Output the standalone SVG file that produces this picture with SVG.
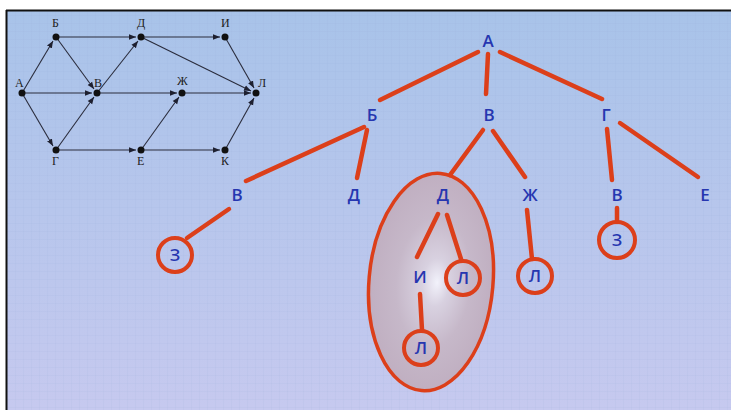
<svg xmlns="http://www.w3.org/2000/svg" width="731" height="410" viewBox="0 0 731 410">
<defs>
<linearGradient id="bg" x1="0" y1="0" x2="0" y2="1">
<stop offset="0" stop-color="#a8c3e9"/>
<stop offset="1" stop-color="#c6c9ef"/>
</linearGradient>
<pattern id="grid" width="8" height="8" patternUnits="userSpaceOnUse">
<path d="M8 0V8M0 8H8" fill="none" stroke="#8aa0d0" stroke-width="1" opacity="0.18"/>
</pattern>
<radialGradient id="ell" cx="0.5" cy="0.5" r="0.5" fx="0.55" fy="0.5">
<stop offset="0" stop-color="#f2f2fb"/>
<stop offset="0.22" stop-color="#d8d1e0"/>
<stop offset="0.6" stop-color="#c6b8c9"/>
<stop offset="1" stop-color="#c0afc1"/>
</radialGradient>
<marker id="ar" viewBox="0 0 10 10" refX="10" refY="5" markerWidth="7" markerHeight="7" orient="auto" markerUnits="userSpaceOnUse">
<path d="M0 1L10 5L0 9Z" fill="#1e2030"/>
</marker>
<style>
.e{stroke:#2a2c3c;stroke-width:1.1;fill:none;marker-end:url(#ar)}
.d{fill:#111}
.s{font-family:"Liberation Serif",serif;font-size:12px;fill:#222}
.t{font-family:"Open Sans","Liberation Sans",sans-serif;font-size:17px;font-weight:600;fill:#2636b0;text-anchor:middle}
.r{stroke:#dc3f1a;stroke-width:4.5;stroke-linecap:round;fill:none}
.c{stroke:#dc3f1a;stroke-width:4;fill:none}
</style>
</defs>
<rect x="0" y="0" width="731" height="410" fill="#fff"/>
<rect x="6" y="10" width="725" height="400" fill="url(#bg)"/>
<rect x="6" y="10" width="725" height="400" fill="url(#grid)"/>
<path d="M6 10.5H731M6.5 10V410" stroke="#111" stroke-width="2"/>

<g id="small-graph">
<g id="small-edges">
<line class="e" x1="22" y1="93" x2="53" y2="41"/>
<line class="e" x1="22" y1="93" x2="92" y2="93"/>
<line class="e" x1="22" y1="93" x2="53" y2="146"/>
<line class="e" x1="56" y1="37" x2="136" y2="37"/>
<line class="e" x1="56" y1="37" x2="94" y2="89"/>
<line class="e" x1="56" y1="150" x2="94" y2="97"/>
<line class="e" x1="97" y1="93" x2="138" y2="41"/>
<line class="e" x1="141" y1="37" x2="220" y2="37"/>
<line class="e" x1="141" y1="37" x2="251" y2="91"/>
<line class="e" x1="225" y1="37" x2="254" y2="88"/>
<line class="e" x1="97" y1="93" x2="177" y2="93"/>
<line class="e" x1="182" y1="93" x2="251" y2="93"/>
<line class="e" x1="56" y1="150" x2="136" y2="150"/>
<line class="e" x1="141" y1="150" x2="179" y2="97"/>
<line class="e" x1="141" y1="150" x2="220" y2="150"/>
<line class="e" x1="225" y1="150" x2="254" y2="98"/>
</g>
<g id="sn-A"><circle class="d" cx="22" cy="93" r="3.5"/><text class="s" x="15" y="87">А</text></g>
<g id="sn-B"><circle class="d" cx="56" cy="37" r="3.5"/><text class="s" x="52" y="27">Б</text></g>
<g id="sn-D"><circle class="d" cx="141" cy="37" r="3.5"/><text class="s" x="137" y="27">Д</text></g>
<g id="sn-I"><circle class="d" cx="225" cy="37" r="3.5"/><text class="s" x="221" y="27">И</text></g>
<g id="sn-V"><circle class="d" cx="97" cy="93" r="3.5"/><text class="s" x="94" y="87">В</text></g>
<g id="sn-Zh"><circle class="d" cx="182" cy="93" r="3.5"/><text class="s" x="177" y="85">Ж</text></g>
<g id="sn-L"><circle class="d" cx="256" cy="93" r="3.5"/><text class="s" x="258" y="87">Л</text></g>
<g id="sn-G"><circle class="d" cx="56" cy="150" r="3.5"/><text class="s" x="52" y="165">Г</text></g>
<g id="sn-E"><circle class="d" cx="141" cy="150" r="3.5"/><text class="s" x="137" y="165">Е</text></g>
<g id="sn-K"><circle class="d" cx="225" cy="150" r="3.5"/><text class="s" x="221" y="165">К</text></g>
</g>

<g id="highlight">
<ellipse cx="431" cy="282" rx="62" ry="109" transform="rotate(5 431 282)" fill="url(#ell)" stroke="#dc3f1a" stroke-width="3.5"/>
</g>

<g id="connectors">
<line class="r" x1="478" y1="52" x2="380" y2="100"/>
<line class="r" x1="488" y1="54" x2="486" y2="94"/>
<line class="r" x1="500" y1="52" x2="602" y2="99"/>
<line class="r" x1="364" y1="127" x2="246" y2="181"/>
<line class="r" x1="367" y1="130" x2="357" y2="178"/>
<line class="r" x1="483" y1="130" x2="450" y2="175"/>
<line class="r" x1="493" y1="131" x2="525" y2="177"/>
<line class="r" x1="607" y1="129" x2="612" y2="180"/>
<line class="r" x1="620" y1="123" x2="698" y2="177"/>
<line class="r" x1="229" y1="209" x2="187" y2="238"/>
<line class="r" x1="438" y1="214" x2="417" y2="257"/>
<line class="r" x1="447" y1="215" x2="461" y2="259"/>
<line class="r" x1="420" y1="294" x2="422" y2="330"/>
<line class="r" x1="527" y1="210" x2="532" y2="259"/>
<line class="r" x1="617" y1="208" x2="617" y2="222"/>
</g>

<g id="n-A"><text class="t" x="488" y="47">А</text></g>
<g id="n-B"><text class="t" x="372" y="121">Б</text></g>
<g id="n-V"><text class="t" x="489" y="121">В</text></g>
<g id="n-G"><text class="t" x="606" y="121">Г</text></g>
<g id="n-BV"><text class="t" x="237" y="201">В</text></g>
<g id="n-BD"><text class="t" x="354" y="201">Д</text></g>
<g id="n-VD"><text class="t" x="443" y="201">Д</text></g>
<g id="n-VZh"><text class="t" x="530" y="201">Ж</text></g>
<g id="n-GV"><text class="t" x="617" y="201">В</text></g>
<g id="n-GE"><text class="t" x="705" y="201">Е</text></g>
<g id="n-Z1"><circle class="c" cx="175" cy="255" r="17"/><text class="t" x="175" y="261">З</text></g>
<g id="n-I"><text class="t" x="420" y="283">И</text></g>
<g id="n-L1"><circle class="c" cx="463" cy="278" r="17"/><text class="t" x="463" y="284">Л</text></g>
<g id="n-L2"><circle class="c" cx="421" cy="348" r="17"/><text class="t" x="421" y="354">Л</text></g>
<g id="n-L3"><circle class="c" cx="535" cy="276" r="17"/><text class="t" x="535" y="282">Л</text></g>
<g id="n-Z2"><circle class="c" cx="617" cy="240" r="18"/><text class="t" x="617" y="246">З</text></g>
</svg>
